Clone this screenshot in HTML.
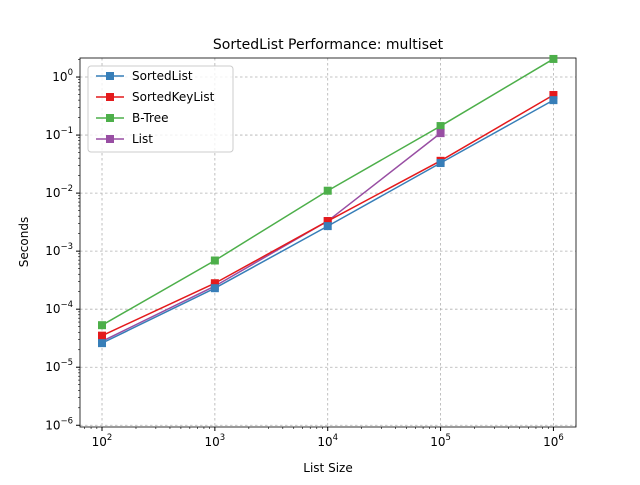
<!DOCTYPE html>
<html><head><meta charset="utf-8"><style>body{margin:0;background:#fff}svg{font-family:"DejaVu Sans","Liberation Sans",sans-serif}</style></head>
<body>
<svg id="chart" width="640" height="480" xmlns="http://www.w3.org/2000/svg">
<rect width="640" height="480" fill="#fff"/>
<g id="grid"></g><g id="axes"></g><g id="series"></g><g id="legend"></g>
<text x="328" y="49" text-anchor="middle" font-size="14">SortedList Performance: multiset</text>
<text x="328" y="472" text-anchor="middle" font-size="12">List Size</text>
<text x="28" y="242" text-anchor="middle" font-size="12" transform="rotate(-90 28 242)">Seconds</text>
</svg>
<script>
const sizes=[100,1000,10000,100000,1000000];
const sortedList=[2.6e-5,2.3e-4,2.7e-3,0.033,0.40];
const sortedKeyList=[3.5e-5,2.8e-4,3.3e-3,0.036,0.49];
const bTree=[5.3e-5,6.9e-4,0.011,0.143,2.05];
const list=[2.8e-5,2.5e-4,3.3e-3,0.108];
const xTickExp=[2,3,4,5,6];
const yTickExp=[0,-1,-2,-3,-4,-5,-6];
const seriesNames=["SortedList","SortedKeyList","B-Tree","List"];
const L=80,R=576,T=58,B=427;
const xMin=1.805,xMax=6.2,yMin=-6.03,yMax=0.328;
const xs=v=>L+(Math.log10(v)-xMin)/(xMax-xMin)*(R-L);
const ys=v=>B-(Math.log10(v)-yMin)/(yMax-yMin)*(B-T);
const NS="http://www.w3.org/2000/svg";
function mk(t,a,p){const e=document.createElementNS(NS,t);for(const k in a)e.setAttribute(k,a[k]);p.appendChild(e);return e;}
const grid=document.getElementById('grid'),axes=document.getElementById('axes');
xTickExp.forEach(e=>{const x=xs(Math.pow(10,e));
 const g=mk('line',{x1:x,x2:x,y1:T,y2:B,stroke:'#b0b0b0','stroke-width':0.8,'stroke-dasharray':'2.5,2.5'},grid);
 
 mk('line',{x1:x,x2:x,y1:B,y2:B+4,stroke:'#000'},axes);
 const t=mk('text',{x:x,y:B+19,'text-anchor':'middle','font-size':12},axes);
 
 t.innerHTML='10<tspan dy="-6" font-size="8.5">'+e+'</tspan>';
 for(let k=2;k<10;k++){const xm=xs(k*Math.pow(10,e-1));if(xm>L&&xm<R)mk('line',{x1:xm,x2:xm,y1:B,y2:B+2,stroke:'#000','stroke-width':0.6},axes);
  const xm2=xs(k*Math.pow(10,e));if(e==6&&xm2<R)mk('line',{x1:xm2,x2:xm2,y1:B,y2:B+2,stroke:'#000','stroke-width':0.6},axes);}
});
yTickExp.forEach(e=>{const y=ys(Math.pow(10,e));
 const g=mk('line',{x1:L,x2:R,y1:y,y2:y,stroke:'#b0b0b0','stroke-width':0.8,'stroke-dasharray':'2.5,2.5'},grid);
 
 mk('line',{x1:L-4,x2:L,y1:y,y2:y,stroke:'#000'},axes);
 const t=mk('text',{x:L-7,y:y+4,'text-anchor':'end','font-size':12},axes);
 
 t.innerHTML='10<tspan dy="-6" font-size="8.5">\u2212'.replace('\u2212',e<0?'\u2212':'')+Math.abs(e)+'</tspan>';
 for(let k=2;k<10;k++){const ym=ys(k*Math.pow(10,e));if(ym>T&&ym<B)mk('line',{x1:L-2,x2:L,y1:ym,y2:ym,stroke:'#000','stroke-width':0.6},axes);}
});
const fr=mk('rect',{x:L,y:T,width:R-L,height:B-T,fill:'none',stroke:'#000','stroke-width':0.8},axes);

const sg=document.getElementById('series');
const data=[sortedList,sortedKeyList,bTree,list];
const colors=['#377eb8','#e41a1c','#4daf4a','#984ea3'];
const order=[2,3,1,0];
order.forEach(i=>{const d=data[i];
 const p=mk('polyline',{points:d.map((v,j)=>xs(sizes[j])+','+ys(v)).join(' '),fill:'none',stroke:colors[i],'stroke-width':1.5},sg);
 
 d.forEach((v,j)=>{const m=mk('rect',{x:xs(sizes[j])-4,y:ys(v)-4,width:8,height:8,fill:colors[i]},sg);
  });
});
const lg=document.getElementById('legend');
const box=mk('rect',{x:88,y:66,width:145,height:86,rx:3,fill:'#fff','fill-opacity':0.8,stroke:'#ccc'},lg);

seriesNames.forEach((n,i)=>{const y=76+i*21;
 mk('line',{x1:96,x2:124,y1:y,y2:y,stroke:colors[i],'stroke-width':1.5},lg);
 mk('rect',{x:106,y:y-4,width:8,height:8,fill:colors[i]},lg);
 const t=mk('text',{x:132,y:y+4,'font-size':12},lg);t.textContent=n;
 
});
</script>
</body></html>
